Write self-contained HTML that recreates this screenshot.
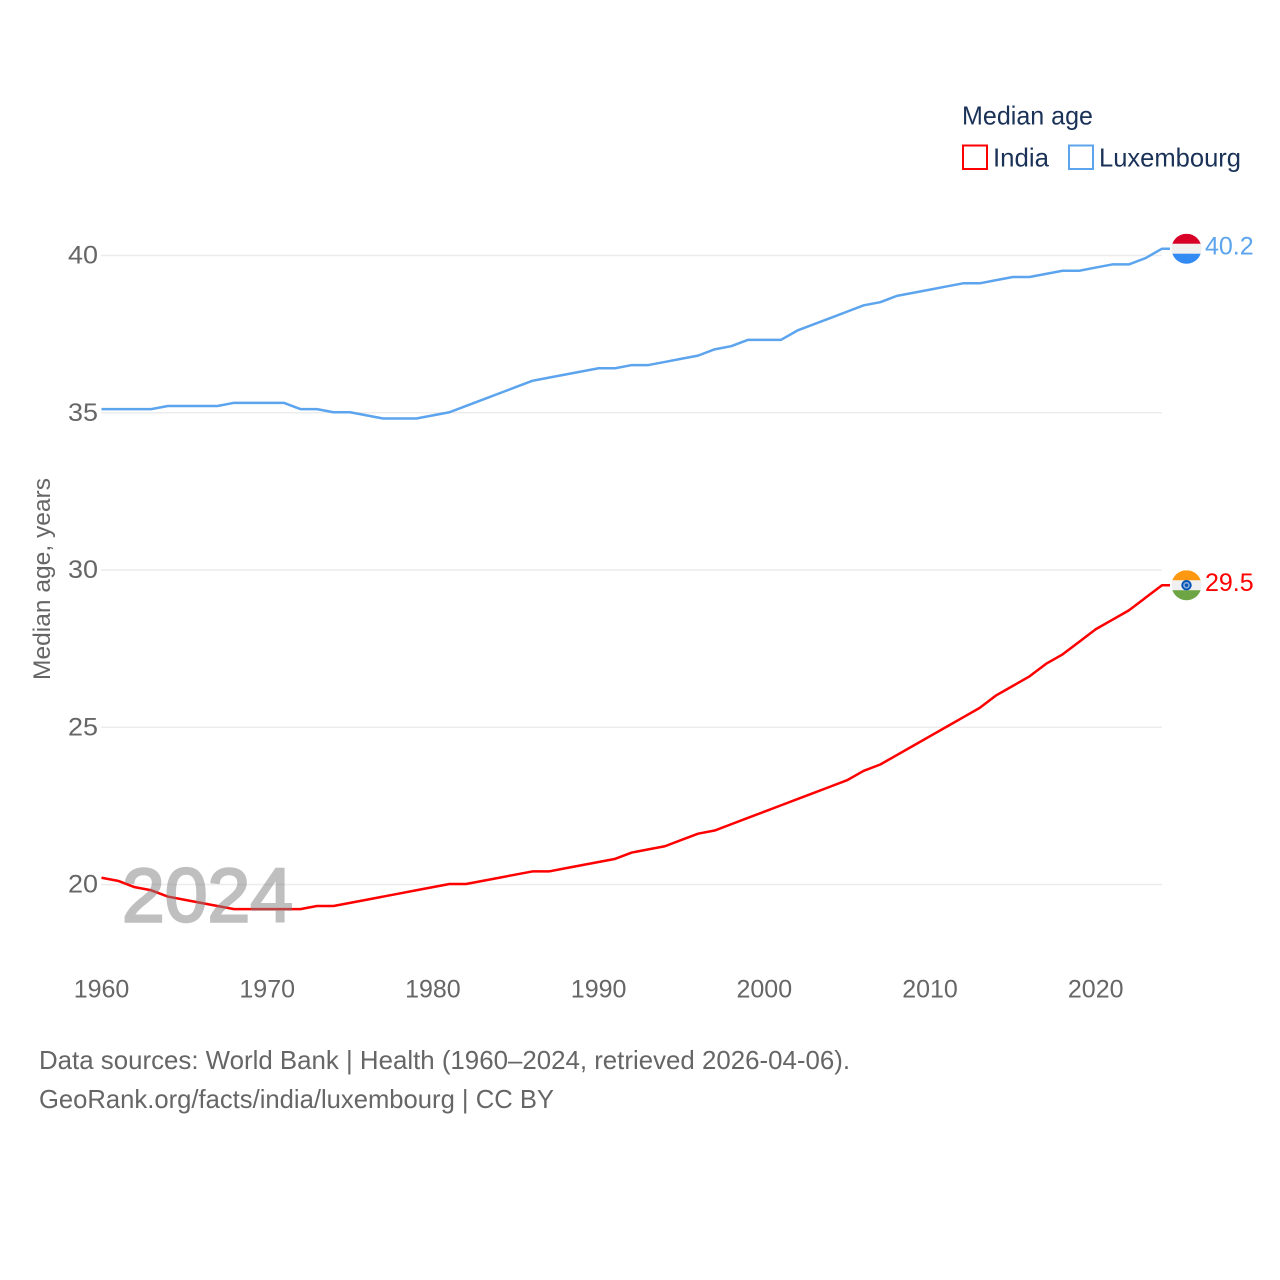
<!DOCTYPE html>
<html lang="en">
<head>
<meta charset="utf-8">
<title>Median age: India and Luxembourg</title>
<style>
html,body{margin:0;padding:0;background:#fff;width:1280px;height:1280px;overflow:hidden}
svg{display:block;font-family:"Liberation Sans",sans-serif}
</style>
</head>
<body>
<svg id="chart" xmlns="http://www.w3.org/2000/svg" width="1280" height="1280" viewBox="0 0 1280 1280">
  <rect width="1280" height="1280" fill="#ffffff"/>
  <g id="grid"></g>
  <g id="yticks"></g>
  <g id="xticks"></g>
  <text transform="translate(50,579) rotate(-90)" text-anchor="middle" font-size="24" fill="#666666" textLength="202" lengthAdjust="spacingAndGlyphs">Median age, years</text>
  <g id="series"></g>
  <text x="122" y="921.5" font-size="76" font-weight="400" fill="#808080" stroke="#808080" stroke-width="2.5" opacity="0.5" textLength="171" lengthAdjust="spacingAndGlyphs">2024</text>
  <g id="ends"></g>

  <g>
    <text x="962" y="124.5" font-size="26" fill="#1a3257" textLength="131" lengthAdjust="spacingAndGlyphs">Median age</text>
    <g>
      <rect x="963" y="145.5" width="24" height="23.5" fill="none" stroke="#ff0000" stroke-width="2"/>
      <text x="993" y="166.5" font-size="26" fill="#1a3257" textLength="56" lengthAdjust="spacingAndGlyphs">India</text>
    </g>
    <g>
      <rect x="1069" y="145.5" width="24" height="23.5" fill="none" stroke="#5ca4ee" stroke-width="2"/>
      <text x="1099" y="166.5" font-size="26" fill="#1a3257" textLength="142" lengthAdjust="spacingAndGlyphs">Luxembourg</text>
    </g>
  </g>

  <text x="39" y="1069" font-size="26" fill="#666666" textLength="811" lengthAdjust="spacingAndGlyphs">Data sources: World Bank | Health (1960–2024, retrieved 2026-04-06).</text>
  <text x="39" y="1108" font-size="26" fill="#666666" textLength="515" lengthAdjust="spacingAndGlyphs">GeoRank.org/facts/india/luxembourg | CC BY</text>
</svg>
<script>
const years = [1960,1961,1962,1963,1964,1965,1966,1967,1968,1969,1970,1971,1972,1973,1974,1975,1976,1977,1978,1979,1980,1981,1982,1983,1984,1985,1986,1987,1988,1989,1990,1991,1992,1993,1994,1995,1996,1997,1998,1999,2000,2001,2002,2003,2004,2005,2006,2007,2008,2009,2010,2011,2012,2013,2014,2015,2016,2017,2018,2019,2020,2021,2022,2023,2024];
const indiaValues = [20.2,20.1,19.9,19.8,19.6,19.5,19.4,19.3,19.2,19.2,19.2,19.2,19.2,19.3,19.3,19.4,19.5,19.6,19.7,19.8,19.9,20.0,20.0,20.1,20.2,20.3,20.4,20.4,20.5,20.6,20.7,20.8,21.0,21.1,21.2,21.4,21.6,21.7,21.9,22.1,22.3,22.5,22.7,22.9,23.1,23.3,23.6,23.8,24.1,24.4,24.7,25.0,25.3,25.6,26.0,26.3,26.6,27.0,27.3,27.7,28.1,28.4,28.7,29.1,29.5];
const luxembourgValues = [35.1,35.1,35.1,35.1,35.2,35.2,35.2,35.2,35.3,35.3,35.3,35.3,35.1,35.1,35.0,35.0,34.9,34.8,34.8,34.8,34.9,35.0,35.2,35.4,35.6,35.8,36.0,36.1,36.2,36.3,36.4,36.4,36.5,36.5,36.6,36.7,36.8,37.0,37.1,37.3,37.3,37.3,37.6,37.8,38.0,38.2,38.4,38.5,38.7,38.8,38.9,39.0,39.1,39.1,39.2,39.3,39.3,39.4,39.5,39.5,39.6,39.7,39.7,39.9,40.2];
const yTickValues = [20,25,30,35,40];
const xTickValues = [1960,1970,1980,1990,2000,2010,2020];

const NS = 'http://www.w3.org/2000/svg';
function xScale(year){ return 101.5 + (year - 1960) * (1162 - 101.5) / 64; }
function yScale(value){ return 884.5 - (value - 20) * (884.5 - 255.5) / 20; }
function make(tag, attrs, parent){
  const el = document.createElementNS(NS, tag);
  for (const k in attrs) el.setAttribute(k, attrs[k]);
  parent.appendChild(el);
  return el;
}

const gridG = document.getElementById('grid');
const yG = document.getElementById('yticks');
yTickValues.forEach(function(v){
  const line = make('line', {x1:101, x2:1162, y1:yScale(v), y2:yScale(v), stroke:'#ececec', 'stroke-width':1.5}, gridG);
  
  
  const label = make('text', {x:68, y:yScale(v)+8, 'font-size':25, fill:'#666666', textLength:30, lengthAdjust:'spacingAndGlyphs'}, yG);
  
  
  label.textContent = v;
});

const xG = document.getElementById('xticks');
xTickValues.forEach(function(y){
  const label = make('text', {x:xScale(y), y:997.5, 'text-anchor':'middle', 'font-size':25, fill:'#666666'}, xG);
  
  
  label.textContent = y;
});

const seriesG = document.getElementById('series');
const endsG = document.getElementById('ends');
function drawSeries(values, color, slug, bands, hasWheel){
  const pts = values.map(function(v, i){ return xScale(years[i]).toFixed(2) + ',' + (yScale(v) - 0.5).toFixed(2); });
  const lastV = values[values.length - 1];
  const lastX = xScale(years[years.length - 1]);
  const lastY = yScale(lastV);
  pts.push((lastX + 8).toFixed(2) + ',' + (lastY - 0.5).toFixed(2));
  const line = make('polyline', {points:pts.join(' '), fill:'none', stroke:color, 'stroke-width':2.5, 'stroke-linejoin':'round'}, seriesG);
  
  

  const cx = lastX + 24.5, cy = lastY - 0.5, r = 15;
  const clipId = 'clip-' + slug;
  const clip = make('clipPath', {id:clipId}, endsG);
  make('circle', {cx:cx, cy:cy, r:r}, clip);
  const flag = make('g', {'clip-path':'url(#' + clipId + ')'}, endsG);
  
  
  bands.forEach(function(c, i){
    make('rect', {x:cx - r, y:cy - r + i * (2 * r / 3), width:2 * r, height:2 * r / 3 + 0.3, fill:c}, flag);
  });
  if (hasWheel) {
    make('circle', {cx:cx, cy:cy, r:5.2, fill:'#0052b4'}, flag);
    make('circle', {cx:cx, cy:cy, r:3.4, fill:'#7fa6d6'}, flag);
    make('circle', {cx:cx, cy:cy, r:1.6, fill:'#0052b4'}, flag);
  }
  const label = make('text', {x:1205, y:lastY + 5.5, 'font-size':25, fill:color}, endsG);
  
  
  label.textContent = lastV.toFixed(1);
}
drawSeries(luxembourgValues, '#5ca4ee', 'luxembourg', ['#d80027','#f0f0f0','#338af3'], false);
drawSeries(indiaValues, '#ff0000', 'india', ['#ff9811','#f0f0f0','#6da544'], true);
</script>
</body>
</html>
